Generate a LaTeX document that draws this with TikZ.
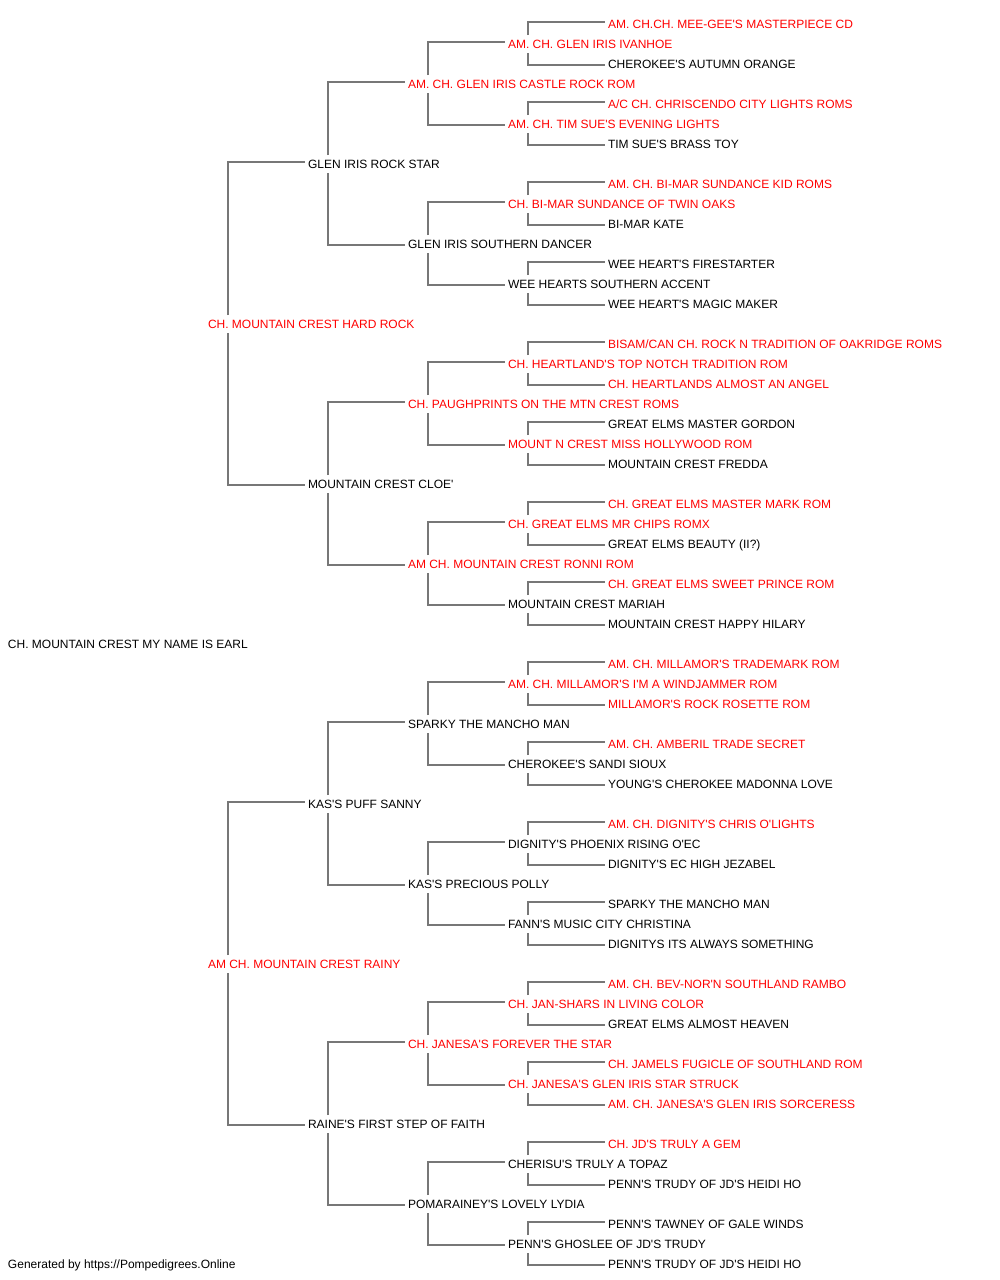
\documentclass[tikz,border=0pt]{standalone}
\usepackage{fontspec}
\newfontfamily\pf{Liberation Sans}
\definecolor{lnk}{HTML}{777777}
\definecolor{redtxt}{HTML}{FF0000}
\definecolor{blktxt}{HTML}{000000}
\begin{document}
\begin{tikzpicture}[x=1pt,y=1pt,
  nm/.style={anchor=base west,inner sep=0pt,outer sep=0pt,font=\pf\fontsize{12}{14}\selectfont,text=blktxt},
  rd/.style={nm,text=redtxt},
  link/.style={draw=lnk,line width=2pt}]
\useasboundingbox (0,0) rectangle (1000,-1280);
\fill[white] (0,0) rectangle (1000,-1280);
% generation 5
\node[rd] (n0) at (608,-28) {AM. CH.CH. MEE-GEE'S MASTERPIECE CD};
\node[nm] (n2) at (608,-68) {CHEROKEE'S AUTUMN ORANGE};
\node[rd] (n4) at (608,-108) {A/C CH. CHRISCENDO CITY LIGHTS ROMS};
\node[nm] (n6) at (608,-148) {TIM SUE'S BRASS TOY};
\node[rd] (n8) at (608,-188) {AM. CH. BI-MAR SUNDANCE KID ROMS};
\node[nm] (n10) at (608,-228) {BI-MAR KATE};
\node[nm] (n12) at (608,-268) {WEE HEART'S FIRESTARTER};
\node[nm] (n14) at (608,-308) {WEE HEART'S MAGIC MAKER};
\node[rd] (n16) at (608,-348) {BISAM/CAN CH. ROCK N TRADITION OF OAKRIDGE ROMS};
\node[rd] (n18) at (608,-388) {CH. HEARTLANDS ALMOST AN ANGEL};
\node[nm] (n20) at (608,-428) {GREAT ELMS MASTER GORDON};
\node[nm] (n22) at (608,-468) {MOUNTAIN CREST FREDDA};
\node[rd] (n24) at (608,-508) {CH. GREAT ELMS MASTER MARK ROM};
\node[nm] (n26) at (608,-548) {GREAT ELMS BEAUTY (II?)};
\node[rd] (n28) at (608,-588) {CH. GREAT ELMS SWEET PRINCE ROM};
\node[nm] (n30) at (608,-628) {MOUNTAIN CREST HAPPY HILARY};
\node[rd] (n32) at (608,-668) {AM. CH. MILLAMOR'S TRADEMARK ROM};
\node[rd] (n34) at (608,-708) {MILLAMOR'S ROCK ROSETTE ROM};
\node[rd] (n36) at (608,-748) {AM. CH. AMBERIL TRADE SECRET};
\node[nm] (n38) at (608,-788) {YOUNG'S CHEROKEE MADONNA LOVE};
\node[rd] (n40) at (608,-828) {AM. CH. DIGNITY'S CHRIS O'LIGHTS};
\node[nm] (n42) at (608,-868) {DIGNITY'S EC HIGH JEZABEL};
\node[nm] (n44) at (608,-908) {SPARKY THE MANCHO MAN};
\node[nm] (n46) at (608,-948) {DIGNITYS ITS ALWAYS SOMETHING};
\node[rd] (n48) at (608,-988) {AM. CH. BEV-NOR'N SOUTHLAND RAMBO};
\node[nm] (n50) at (608,-1028) {GREAT ELMS ALMOST HEAVEN};
\node[rd] (n52) at (608,-1068) {CH. JAMELS FUGICLE OF SOUTHLAND ROM};
\node[rd] (n54) at (608,-1108) {AM. CH. JANESA'S GLEN IRIS SORCERESS};
\node[rd] (n56) at (608,-1148) {CH. JD'S TRULY A GEM};
\node[nm] (n58) at (608,-1188) {PENN'S TRUDY OF JD'S HEIDI HO};
\node[nm] (n60) at (608,-1228) {PENN'S TAWNEY OF GALE WINDS};
\node[nm] (n62) at (608,-1268) {PENN'S TRUDY OF JD'S HEIDI HO};
% generation 4
\node[rd] (n1) at (508,-48) {AM. CH. GLEN IRIS IVANHOE};
\node[rd] (n5) at (508,-128) {AM. CH. TIM SUE'S EVENING LIGHTS};
\node[rd] (n9) at (508,-208) {CH. BI-MAR SUNDANCE OF TWIN OAKS};
\node[nm] (n13) at (508,-288) {WEE HEARTS SOUTHERN ACCENT};
\node[rd] (n17) at (508,-368) {CH. HEARTLAND'S TOP NOTCH TRADITION ROM};
\node[rd] (n21) at (508,-448) {MOUNT N CREST MISS HOLLYWOOD ROM};
\node[rd] (n25) at (508,-528) {CH. GREAT ELMS MR CHIPS ROMX};
\node[nm] (n29) at (508,-608) {MOUNTAIN CREST MARIAH};
\node[rd] (n33) at (508,-688) {AM. CH. MILLAMOR'S I'M A WINDJAMMER ROM};
\node[nm] (n37) at (508,-768) {CHEROKEE'S SANDI SIOUX};
\node[nm] (n41) at (508,-848) {DIGNITY'S PHOENIX RISING O'EC};
\node[nm] (n45) at (508,-928) {FANN'S MUSIC CITY CHRISTINA};
\node[rd] (n49) at (508,-1008) {CH. JAN-SHARS IN LIVING COLOR};
\node[rd] (n53) at (508,-1088) {CH. JANESA'S GLEN IRIS STAR STRUCK};
\node[nm] (n57) at (508,-1168) {CHERISU'S TRULY A TOPAZ};
\node[nm] (n61) at (508,-1248) {PENN'S GHOSLEE OF JD'S TRUDY};
% generation 3
\node[rd] (n3) at (408,-88) {AM. CH. GLEN IRIS CASTLE ROCK ROM};
\node[nm] (n11) at (408,-248) {GLEN IRIS SOUTHERN DANCER};
\node[rd] (n19) at (408,-408) {CH. PAUGHPRINTS ON THE MTN CREST ROMS};
\node[rd] (n27) at (408,-568) {AM CH. MOUNTAIN CREST RONNI ROM};
\node[nm] (n35) at (408,-728) {SPARKY THE MANCHO MAN};
\node[nm] (n43) at (408,-888) {KAS'S PRECIOUS POLLY};
\node[rd] (n51) at (408,-1048) {CH. JANESA'S FOREVER THE STAR};
\node[nm] (n59) at (408,-1208) {POMARAINEY'S LOVELY LYDIA};
% generation 2
\node[nm] (n7) at (308,-168) {GLEN IRIS ROCK STAR};
\node[nm] (n23) at (308,-488) {MOUNTAIN CREST CLOE'};
\node[nm] (n39) at (308,-808) {KAS'S PUFF SANNY};
\node[nm] (n55) at (308,-1128) {RAINE'S FIRST STEP OF FAITH};
% generation 1
\node[rd] (n15) at (208,-328) {CH. MOUNTAIN CREST HARD ROCK};
\node[rd] (n47) at (208,-968) {AM CH. MOUNTAIN CREST RAINY};
% root
\node[nm] (n31) at (8,-648) {CH. MOUNTAIN CREST MY NAME IS EARL};
% footer
\node[nm] (foot) at (8,-1268) {Generated by https://Pompedigrees.Online};
% connectors
\foreach \p/\a/\b in {15/7/23, 47/39/55,
  7/3/11, 23/19/27, 39/35/43, 55/51/59,
  3/1/5, 11/9/13, 19/17/21, 27/25/29, 35/33/37, 43/41/45, 51/49/53, 59/57/61,
  1/0/2, 5/4/6, 9/8/10, 13/12/14, 17/16/18, 21/20/22, 25/24/26, 29/28/30,
  33/32/34, 37/36/38, 41/40/42, 45/44/46, 49/48/50, 53/52/54, 57/56/58, 61/60/62}{
  \draw[link] ([shift={(20pt,13pt)}]n\p.base west) |- ([shift={(-3pt,6pt)}]n\a.base west);
  \draw[link] ([shift={(20pt,-5pt)}]n\p.base west) |- ([shift={(-3pt,3pt)}]n\b.base west);
}
\end{tikzpicture}
\end{document}
